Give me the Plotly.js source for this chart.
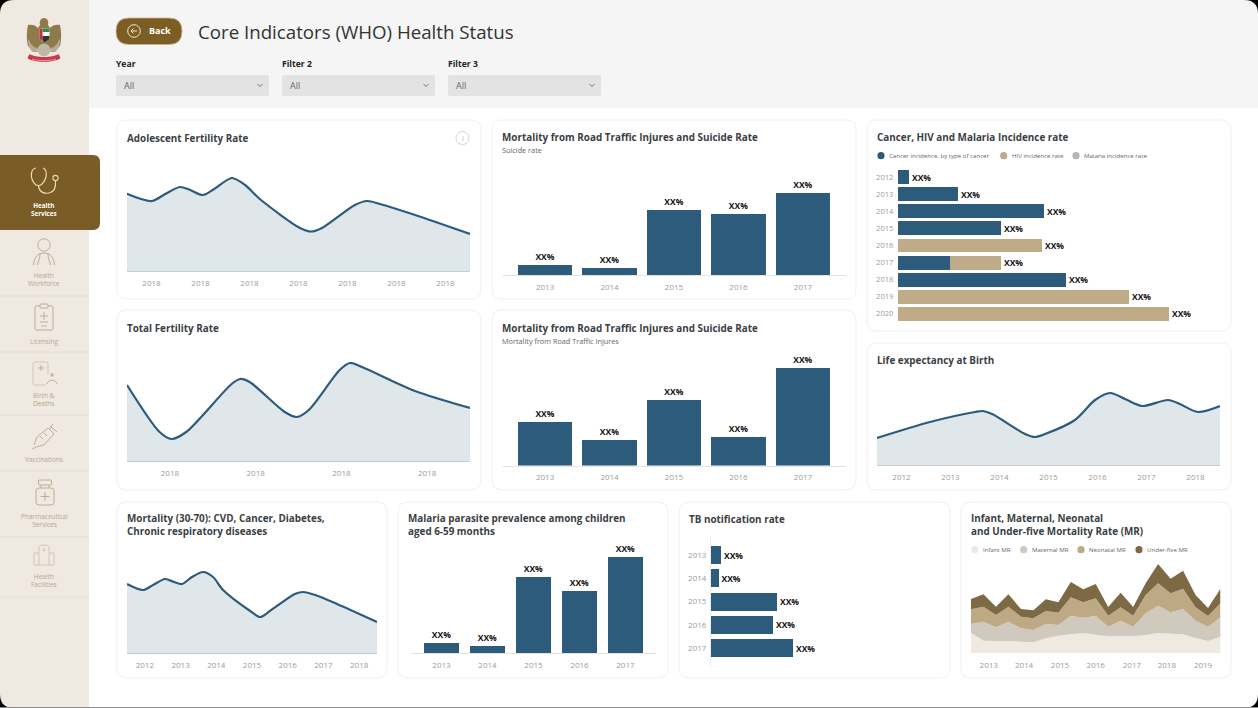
<!DOCTYPE html>
<html><head><meta charset="utf-8"><title>Core Indicators (WHO) Health Status</title>
<script src="https://cdn.plot.ly/plotly-3.0.1.min.js"></script>
<style>html,body{margin:0;padding:0;background:#fff;overflow:hidden}#chart{width:1258px;height:708px}</style>
</head><body><div id="chart"></div>
<script>
// ---------- data ----------
const years13to17 = ['2013','2014','2015','2016','2017'];
const cancerYears = ['2012','2013','2014','2015','2016','2017','2018','2019','2020'];
const barLabel = 'XX%';

const adolescentX = [0,0.51,0.78,1.08,1.29,1.55,1.78,2.14,2.41,2.71,3.53,3.76,3.98,4.65,4.9,5.16,5.88,7];
const adolescentY = [77.3,70,77,84,81,76,82,93,86,72,43,39.5,43,66,70,67,56,37];
const adolescentTicks = ['2018','2018','2018','2018','2018','2018','2018'];

const totalFertilityX = [0,0.38,0.52,0.69,1.22,1.32,1.43,1.84,1.98,2.12,2.48,2.6,2.74,3.36,4];
const totalFertilityY = [76,29,22,29,77,82,79,49,44,51,91,98,94,70,53];
const totalFertilityTicks = ['2018','2018','2018','2018'];

const lifeX = [0,1.08,2,2.16,2.35,3.02,3.22,3.43,4.04,4.45,4.76,5.06,5.41,5.94,6.18,6.55,7];
const lifeY = [27,43,53,54,51,31,28,31,45,65,72,66,59,65,61,53,59];
const lifeTicks = ['2012','2013','2014','2015','2016','2017','2018'];

const mortalityX = [0,0.45,0.73,1.06,1.32,1.54,1.82,2.13,2.41,2.69,3.45,3.73,4,4.7,4.93,5.27,5.88,7];
const mortalityY = [69,63,68,74,71,69,76,81,76,63,42,36,42,59,61,58,49,31];
const mortalityTicks = ['2012','2013','2014','2015','2016','2017','2018'];

const suicideRate = [10,7,65,61.5,82];
const roadTraffic = [43.5,25.5,65.5,28.5,97.5];
const malariaPrev = [10,6.7,76,61.7,96.3];
const tbRate = [10,7.5,66,62,82];

const cancerInc = [10.7,60,146,103,0,52,167.7,0,0];
const hivInc = [0,0,0,0,143.7,51,0,231,270.7];
const malariaInc = [0,0,0,0,0,0,0,0,0];
const cancerTotals = [10.7,60,146,103,143.7,103,167.7,231,270.7];

const mrX = [0,1,2,3,4,5,6,7,8,9,10,11,12,13,14,15,16,17,18,19,20];
const infantMR = [62,38,37,37,35,33,45,53,57,61,56,51,51,51,55,61,59,57,46,37,50];
const maternalMR = [26,57,41,58,40,37,43,32,56,46,56,29,47,29,65,82,64,76,52,43,58];
const neonatalMR = [44,45,37,45,35,35,39,37,55,46,53,33,40,33,55,67,57,61,40,32,42];
const underFiveMR = [31,37,25,37,23,24,35,31,46,39,43,26,44,26,35,58,44,54,37,24,44];
const mrTicks = ['2013','2014','2015','2016','2017','2018','2019'];
const mrTickPos = [1.42,4.25,7.13,10,12.9,15.7,18.6];

// ---------- helpers ----------
const W=1258,H=708;
const FONT='"Open Sans", "Noto Sans", sans-serif';
const BLUE='#2d5b7c', TAN='#bfab87', GOLD='#7a5c26', TICK='#9b9b9b', TITLE='#3a3f44';
const X=v=>v/W, Y=v=>1-v/H;
function P(s){let i=0;return s.replace(/-?\d+(\.\d+)?/g,m=>{const v=+m;return ((i++%2===0)?X(v):Y(v)).toFixed(5);});}
const shapes=[],annotations=[],traces=[],layout={};
function path(d,fill,line,w,layer){shapes.push({type:'path',xref:'paper',yref:'paper',path:P(d),fillcolor:fill||'rgba(0,0,0,0)',line:{color:line||'rgba(0,0,0,0)',width:line?(w||1):0},layer:layer||'below'});}
function rr(x0,y0,x1,y1,r,fill,line,w,layer){path(`M${x0+r} ${y0} L${x1-r} ${y0} Q${x1} ${y0} ${x1} ${y0+r} L${x1} ${y1-r} Q${x1} ${y1} ${x1-r} ${y1} L${x0+r} ${y1} Q${x0} ${y1} ${x0} ${y1-r} L${x0} ${y0+r} Q${x0} ${y0} ${x0+r} ${y0} Z`,fill,line,w,layer);}
function circ(cx,cy,r,fill,line,w,layer){shapes.push({type:'circle',xref:'paper',yref:'paper',x0:X(cx-r),x1:X(cx+r),y0:Y(cy+r),y1:Y(cy-r),fillcolor:fill||'rgba(0,0,0,0)',line:{color:line||'rgba(0,0,0,0)',width:line?(w||1):0},layer:layer||'below'});}
function txt(x,y,t,size,color,opt){opt=opt||{};annotations.push({xref:'paper',yref:'paper',x:X(x),y:Y(y),text:t,showarrow:false,xanchor:opt.anchor||'left',yanchor:'middle',align:opt.align||opt.anchor||'left',font:{family:opt.family||FONT,size:size,color:color,weight:opt.weight||400},borderpad:0,borderwidth:0});}
let n=0;
function axes(x0,x1,y0,y1,xa,ya){n++;const s=n===1?'':n;
 layout['xaxis'+s]=Object.assign({domain:[X(x0),X(x1)],anchor:'y'+s,showgrid:false,zeroline:false,fixedrange:true,tickfont:{family:FONT,size:8,color:TICK},ticks:'',showline:false},xa);
 layout['yaxis'+s]=Object.assign({domain:[Y(y1),Y(y0)],anchor:'x'+s,showgrid:false,zeroline:false,fixedrange:true,tickfont:{family:FONT,size:8,color:TICK},ticks:'',showline:false},ya);
 return {xaxis:'x'+s,yaxis:'y'+s};}
const tickGap={ticks:'outside',ticklen:4,tickcolor:'rgba(0,0,0,0)',tickwidth:1};
function area(x0,x1,y0,y1,rx,ry,xs,ys,tickv,tickt){
 const a=axes(x0,x1,y0,y1,Object.assign({type:'linear',range:rx,tickmode:'array',tickvals:tickv,ticktext:tickt,showline:true,linecolor:'#c3ccd3',linewidth:1},tickGap),{type:'linear',range:ry,showticklabels:false});
 traces.push(Object.assign({type:'scatter',mode:'lines',x:xs,y:ys,fill:'tozeroy',fillcolor:'rgba(45,91,124,0.15)',line:{color:BLUE,width:2.2,shape:'spline',smoothing:0.8},hoverinfo:'skip'},a));}
function vbars(x0,x1,y0,y1,vals,gap,ymax){
 const a=axes(x0,x1,y0,y1,Object.assign({type:'category',categoryorder:'array',categoryarray:years13to17,range:[-0.66,4.66],showline:true,linecolor:'#e3e3e3',linewidth:1},tickGap),{type:'linear',range:[0,ymax],showticklabels:false});
 traces.push(Object.assign({type:'bar',x:years13to17,y:vals,width:gap,marker:{color:BLUE},text:vals.map(()=>barLabel),textposition:'outside',textangle:0,cliponaxis:false,constraintext:'none',textfont:{family:FONT,size:8.5,color:'#111',weight:700},hoverinfo:'skip'},a));}

// ---------- page chrome ----------
rr(-20,-20,W+20,H+20,0,'#ffffff');
path(`M89 0 L${W} 0 L${W} 108 L89 108 Z`,'#f5f5f5');
path(`M0 0 L89 0 L89 ${H} L0 ${H} Z`,'#efe9e1');
[296,352,415,471,537,597].forEach(y=>path(`M0 ${y} L89 ${y}`,null,'#e5ded4',1));
rr(-12,155,100,230,7,GOLD);
path(`M0 0 L14 0 Q0 0 0 14 Z`,'#000');
path(`M1244 0 L1258 0 L1258 14 Q1258 0 1244 0 Z`,'#000');
path(`M0 694 Q0 708 14 708 L0 708 Z`,'#000');
path(`M1258 694 Q1258 708 1244 708 L1258 708 Z`,'#000');
path(`M0 707.5 L1258 707.5`,null,'#8c8c8c',1);

// emblem
path('M44 18 C47 18 49 21 48 25 L50 28 C52 25 57 24 60 25 C61 30 62 38 60 46 C56 50 53 50 51 49 L37 49 C35 50 32 50 28 46 C26 38 27 30 28 25 C31 24 36 25 38 28 L40 25 C39 21 41 18 44 18 Z','#8f7a4c');
path('M29 39 C30 44 33 47 37 48 L38 52 L33 52 C30 50 28 45 28 40 Z','#b5aa92');
path('M59 39 C58 44 55 47 51 48 L50 52 L55 52 C58 50 60 45 60 40 Z','#b5aa92');
circ(44,50,6.5,'#c0b8a6');
path('M39.5 28.5 L49.5 28.5 L49.5 37 C49.5 40 46.5 41.5 44.5 42.5 C42.5 41.5 39.5 40 39.5 37 Z','#ffffff');
path('M39.5 28.5 L42.5 28.5 L42.5 41 C40.5 40.2 39.5 39 39.5 37 Z','#c5303c');
path('M42.5 28.5 L49.5 28.5 L49.5 32 L42.5 32 Z','#2f8d50');
path('M42.5 36 L49.5 36 L49.5 37.5 C49 40 46.5 41.5 44.5 42.5 L42.5 41 Z','#333');
path('M29.5 54 C35 58 53 58 58.5 54 L60.5 58 C55 63 33 63 27.5 58 Z','#c9384c');
path('M32 59 C38 61 50 61 56 59','','#e9a9b0',0.8);

// back button, header
rr(116,18,182,44.5,13,'#7c5e24','#c9b88f',0.8);
circ(134,31,6.3,null,'#f1e8d0',1);
path('M137 31 L131 31 M133.5 28.5 L131 31 L133.5 33.5',null,'#f1e8d0',1);
txt(149,31,'Back',9,'#fff',{weight:700});
txt(198,31.5,'Core Indicators (WHO) Health Status',18.7,'#333',{});
[[116,'Year'],[282,'Filter 2'],[448,'Filter 3']].forEach(([x,t])=>{
 txt(x,63.5,t,8.6,'#222',{weight:700});
 rr(x,75,x+153,96,2,'#e3e3e3');
 txt(x+8,85.5,'All',9,'#666',{});
 path(`M${x+141.5} 84 L${x+144} 86.5 L${x+146.5} 84`,null,'#777',1);
});

// sidebar text & icons
const IC='#bdae94', IC2='#d3c8b6', ST='#b5a892';
txt(44,209.5,'<b>Health</b><br><b>Services</b>',6.3,'#fff',{anchor:'center'});
txt(44,279.5,'Health<br>Workforce',6.5,ST,{anchor:'center'});
txt(44,341,'Licensing',6.5,ST,{anchor:'center'});
txt(44,399.5,'Birth &amp;<br>Deaths',6.5,ST,{anchor:'center'});
txt(44,459,'Vaccinations',6.5,ST,{anchor:'center'});
txt(44,520.5,'Pharmaceutical<br>Services',6.5,ST,{anchor:'center'});
txt(44,580.5,'Health<br>Facilities',6.5,ST,{anchor:'center'});
// stethoscope
path('M36 168 C30 169 30 179 35 184 C37 186 40 186 42 184 C47 179 48 170 43 168','', '#ecd9ad',1.2);
path('M38.5 186 C39 192 44 194 49 193 C54 192 56 187 55.5 181','', '#ecd9ad',1.2);
circ(55.5,178,2.6,null,'#ecd9ad',1.1);
// person
circ(44,245,6.2,null,IC,1);
path('M33.5 265 C34 257 38 253 44 253 C50 253 54 257 54.5 265 M40 253 C40 258 39 261 37 265 M48 253 C48 258 49 261 51 265',null,IC,1);
// clipboard
rr(35,306,53,330,1.5,null,IC,1);rr(40,304,48,308,1,'#efe9e1',IC,1);
path('M44 312 L44 320 M40 316 L48 316 M40 322 L48 322 M41 326 L47 326',null,IC,0.9);
// birth
path('M48 374 L48 364 Q48 362 46 362 L35 362 Q33 362 33 364 L33 383 Q33 385 35 385 L46 385',null,IC2,1);
path('M41 365 L41 371 M38 368 L44 368',null,IC,0.9);
circ(52,375,1.8,'#c5b9a4');path('M47 384 C48 379 56 379 57 384',null,IC,0.9);
// syringe
path('M34 445 L37 437 L48 428 L54 434 L44 445 L36 447 L32 449 M50 426 L57 432 M53 424 L50 429 M40 436 L43 439 M44 433 L47 436',null,IC,1);
// bottle
rr(36,488,54,505,3,null,IC,1);rr(38.5,480,51.5,485,1,null,IC,1);
path('M41 485 L41 488 M49 485 L49 488 M45 492 L45 501 M40.5 496.5 L49.5 496.5',null,IC,1);
// facility
path('M34 553 L34 565 L54 565 L54 553 L49 553 L49 548 Q49 545 46 545 L42 545 Q39 545 39 548 L39 553 Z M39 553 L39 565 M49 553 L49 565',null,IC2,1);
path('M44 548 L44 552 M42 550 L46 550',null,IC2,0.9);

// cards
[[117,120,481,299],[492,120,856,299],[867,120,1231,331],[117,310,481,490],[492,310,856,490],[867,343,1231,490],[117,502,387,678],[398,502,668,678],[679,502,950,678],[961,502,1231,678]]
 .forEach(c=>rr(c[0],c[1],c[2],c[3],10,'#fff','#f1f1f1',1));

// titles
const T=(x,y,t)=>txt(x,y,t,9.9,TITLE,{weight:700});
T(127,138,'Adolescent Fertility Rate');
T(502,137,'Mortality from Road Traffic Injures and Suicide Rate');
txt(502,150,'Suicide rate',7.3,'#666');
T(877,137,'Cancer, HIV and Malaria Incidence rate');
T(127,328,'Total Fertility Rate');
T(502,327.5,'Mortality from Road Traffic Injures and Suicide Rate');
txt(502,341,'Mortality from Road Traffic Injures',7.3,'#666');
T(877,359.5,'Life expectancy at Birth');
T(127,524.5,'Mortality (30-70): CVD, Cancer, Diabetes,<br>Chronic respiratory diseases');
T(408,524.5,'Malaria parasite prevalence among children<br>aged 6-59 months');
T(689,518.5,'TB notification rate');
T(971,524.5,'Infant, Maternal, Neonatal<br>and Under-five Mortality Rate (MR)');
circ(462.5,138,6.5,null,'#cfcfcf',0.9);
txt(462.5,138,'i',7.5,'#bbb',{anchor:'center'});

// legends
[[881,889,BLUE,'Cancer incidence, by type of cancer'],[1003.7,1011.7,TAN,'HIV incidence rate'],[1076,1084,'#b5b5b5','Malaria incidence rate']]
 .forEach(([c,t,col,s])=>{circ(c,155.7,3.6,col);txt(t,155.7,s,6.1,'#666');});
const mrColors=['#eeeae2','#cfcabd','#bdaa85','#7d6a45'], mrNames=['Infant MR','Maternal MR','Neonatal MR','Under-five MR'];
[[974.7,982.7],[1023.7,1031.7],[1081,1088.7],[1139,1147]].forEach(([c,t],i)=>{circ(c,549.7,3.6,mrColors[i]);txt(t,549.7,mrNames[i],6.1,'#666');});

// ---------- charts ----------
area(127,470,171,271,[0,7],[0,100],adolescentX,adolescentY,[0.5,1.5,2.5,3.5,4.5,5.5,6.5],adolescentTicks);
area(127,470,341,461,[0,4],[0,120],totalFertilityX,totalFertilityY,[0.5,1.5,2.5,3.5],totalFertilityTicks);
area(877,1220,365,465,[0,7],[0,100],lifeX,lifeY,[0.5,1.5,2.5,3.5,4.5,5.5,6.5],lifeTicks);
area(127,377,553,653,[0,7],[0,100],mortalityX,mortalityY,[0.5,1.5,2.5,3.5,4.5,5.5,6.5],mortalityTicks);

vbars(502.5,845.5,175,275,suicideRate,0.84,100);
vbars(502.5,845.5,355.5,465.5,roadTraffic,0.84,110);
vbars(411.1,655.8,543,653,malariaPrev,0.77,110);

// TB
{const a=axes(711,950,536,667,{type:'linear',range:[0,239],showticklabels:false},Object.assign({type:'category',categoryorder:'array',categoryarray:years13to17,range:[4.81,-0.82],showline:true,linecolor:'#ececec',linewidth:1},{ticks:'outside',ticklen:2,tickcolor:'rgba(0,0,0,0)'}));
 traces.push(Object.assign({type:'bar',orientation:'h',y:years13to17,x:tbRate,width:0.78,marker:{color:BLUE},text:tbRate.map(()=>barLabel),textposition:'outside',cliponaxis:false,textfont:{family:FONT,size:8.5,color:'#111',weight:700},hoverinfo:'skip'},a));}

// Cancer stacked
{const a=axes(898,1231,168.8,322.2,{type:'linear',range:[0,333],showticklabels:false},{type:'category',categoryorder:'array',categoryarray:cancerYears,range:[8.5,-0.5],ticks:'outside',ticklen:2,tickcolor:'rgba(0,0,0,0)',tickfont:{family:FONT,size:7.6,color:TICK}});
 layout.barmode='stack';
 traces.push(Object.assign({type:'bar',orientation:'h',name:'Cancer incidence, by type of cancer',y:cancerYears,x:cancerInc,width:0.82,marker:{color:BLUE},hoverinfo:'skip'},a));
 traces.push(Object.assign({type:'bar',orientation:'h',name:'HIV incidence rate',y:cancerYears,x:hivInc,width:0.82,marker:{color:TAN},hoverinfo:'skip'},a));
 traces.push(Object.assign({type:'bar',orientation:'h',name:'Malaria incidence rate',y:cancerYears,x:malariaInc,width:0.82,marker:{color:'#b5b5b5'},hoverinfo:'skip'},a));
 cancerYears.forEach((yr,i)=>annotations.push({xref:a.xaxis,yref:a.yaxis,x:cancerTotals[i],y:i,text:barLabel,showarrow:false,xanchor:'left',yanchor:'middle',xshift:1,yshift:0,font:{family:FONT,size:8.5,color:'#111',weight:700}}));}

// MR stacked area
{const a=axes(971,1220.5,553.3,653.3,Object.assign({type:'linear',range:[0,20],tickmode:'array',tickvals:mrTickPos,ticktext:mrTicks},tickGap),{type:'linear',range:[0,300],showticklabels:false});
 [infantMR,maternalMR,neonatalMR,underFiveMR].forEach((v,i)=>traces.push(Object.assign({type:'scatter',mode:'none',x:mrX,y:v,name:mrNames[i],stackgroup:'mr',fillcolor:mrColors[i],line:{width:0},hoverinfo:'skip'},a)));}

Object.assign(layout,{width:W,height:H,margin:{l:0,r:0,t:0,b:0,pad:0},paper_bgcolor:'#fff',plot_bgcolor:'rgba(0,0,0,0)',showlegend:false,shapes,annotations,font:{family:FONT},hovermode:false,dragmode:false});
Plotly.newPlot('chart',traces,layout,{displayModeBar:false,staticPlot:true});
</script></body></html>
